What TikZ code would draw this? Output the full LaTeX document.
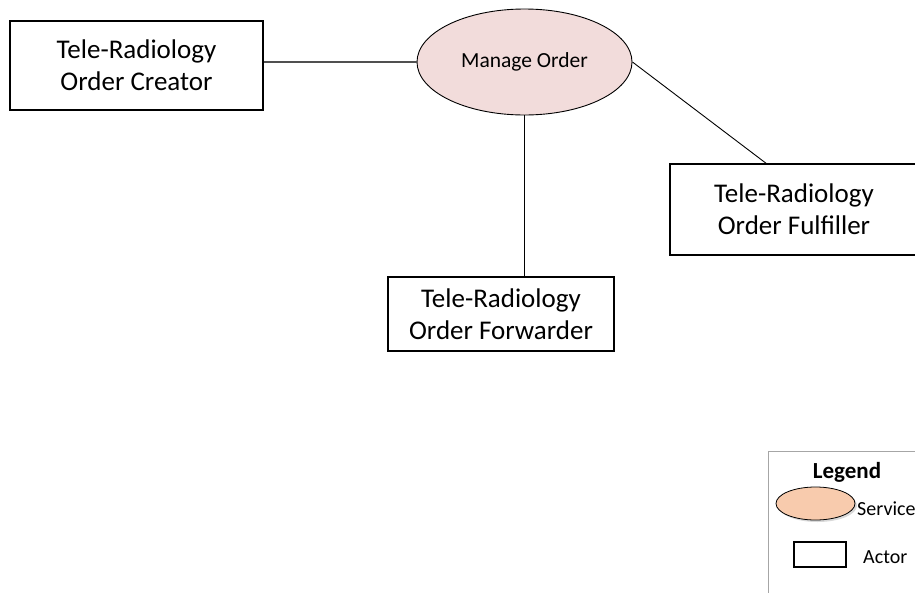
\documentclass[tikz,border=0pt]{standalone}
\usepackage{fontspec}
\setmainfont{Carlito}
\usetikzlibrary{shapes.geometric}
\definecolor{svcfill}{HTML}{F2DCDB}
\definecolor{legfill}{HTML}{F8CBAD}
\definecolor{linegray}{HTML}{505050}
\definecolor{legborder}{HTML}{A6A6A6}
\tikzset{
  actor/.style={draw=black, line width=1.4pt, rectangle, inner sep=0pt, align=center,
    font=\fontsize{27}{32}\selectfont},
  service/.style={draw=black, line width=0.9pt, ellipse, fill=svcfill, inner sep=0pt,
    font=\fontsize{21.5}{25}\selectfont},
  conn/.style={draw=black, line width=0.9pt},
  legtext/.style={inner sep=0pt, anchor=west, font=\fontsize{20}{24}\selectfont}
}
\begin{document}
\begin{tikzpicture}[x=1pt,y=-1pt]
\useasboundingbox (0,0) rectangle (915,592);
\clip (0,0) rectangle (915,592);
% nodes
\node[actor, minimum width=253pt, minimum height=89pt] (cre) at (136.5,65.5) {Tele-Radiology\\Order Creator};
\node[service, minimum width=215pt, minimum height=106pt] (mo) at (524.5,62) {Manage Order};
\node[actor, minimum width=226pt, minimum height=74pt] (fwd) at (501,314) {Tele-Radiology\\Order Forwarder};
\node[actor, minimum width=248pt, minimum height=91pt] (ful) at (794,209.5) {Tele-Radiology\\Order Fulfiller};
% connectors
\draw[conn, draw=linegray, line width=1.2pt] (mo.west -| cre.east) -- (mo.west);
\draw[conn] (mo.south) -- (mo.south |- fwd.north);
\coordinate (fulin) at (767,164);
\draw[conn] (mo.east) -- (fulin);
% legend
\node[draw=legborder, line width=1pt, rectangle, minimum width=200pt, minimum height=200pt, anchor=north west, inner sep=0pt] (leg) at (768,451) {};
\node[inner sep=0pt, font=\bfseries\fontsize{23}{28}\selectfont] (legtitle) at (847,472) {Legend};
\node[ellipse, fill=gray!30, minimum width=79pt, minimum height=33pt, inner sep=0pt] (legsvcsh) at (817.5,505.5) {};
\node[ellipse, draw=black, line width=0.8pt, fill=legfill, minimum width=79pt, minimum height=33pt, inner sep=0pt] (legsvc) at (815.5,503.5) {};
\node[legtext] (svctxt) at (857,509) {Service};
\node[draw=black, line width=1.4pt, rectangle, minimum width=52pt, minimum height=25pt, inner sep=0pt] (legact) at (820,554.5) {};
\node[legtext] (acttxt) at (863,557) {Actor};
\end{tikzpicture}
\end{document}
